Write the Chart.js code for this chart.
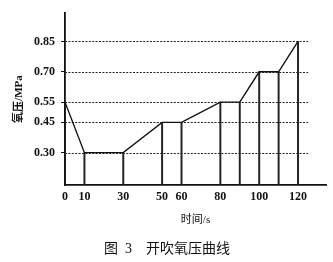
<!DOCTYPE html>
<html>
<head>
<meta charset="utf-8">
<script src="https://cdn.jsdelivr.net/npm/chart.js@4"></script>
<style>
  html, body { margin: 0; padding: 0; background: #fff; }
</style>
</head>
<body>
<canvas id="pressure" width="333" height="262"></canvas>
<script>
// blowing time (s) and oxygen pressure (MPa)
const times = [0, 10, 30, 50, 60, 80, 90, 100, 110, 120];
const pressure = [0.55, 0.30, 0.30, 0.45, 0.45, 0.55, 0.55, 0.70, 0.70, 0.85];

const xTicks = [0, 10, 30, 50, 60, 80, 100, 120];
const yTicks = [0.30, 0.45, 0.55, 0.70, 0.85];

const serif = "'Liberation Serif', 'Noto Sans CJK SC', serif";
const ink = '#111';

const points = times.map((t, i) => ({ x: t, y: pressure[i] }));

// dotted guide lines, stopping short of the end of the time axis
const guides = {
  id: 'guides',
  beforeDatasetsDraw(chart) {
    const { ctx, chartArea, scales } = chart;
    const xEnd = scales.x.getPixelForValue(125.2);
    ctx.save();
    ctx.strokeStyle = '#222';
    ctx.lineWidth = 1.1;
    ctx.setLineDash([2, 1.4]);
    yTicks.forEach(v => {
      const y = Math.round(scales.y.getPixelForValue(v)) + 0.5;
      ctx.beginPath();
      ctx.moveTo(chartArea.left, y);
      ctx.lineTo(xEnd, y);
      ctx.stroke();
    });
    ctx.restore();
  }
};

const caption = {
  id: 'caption',
  afterDraw(chart) {
    const ctx = chart.ctx;
    ctx.save();
    ctx.fillStyle = ink;
    ctx.font = "14px 'Liberation Serif', 'Noto Sans CJK SC'";
    ctx.textAlign = 'center';
    ctx.textBaseline = 'middle';
    ctx.fillText('图  3\u3000开吹氧压曲线', 167, 249);
    ctx.restore();
  }
};

const ctx = document.getElementById('pressure').getContext('2d');
new Chart(ctx, {
  type: 'line',
  data: {
    datasets: [{
      type: 'line',
      data: points,
      borderColor: ink,
      borderWidth: 1.4,
      pointRadius: 0,
      tension: 0,
      order: 1
    }, {
      type: 'bar',
      data: points,
      backgroundColor: '#222',
      borderWidth: 0,
      barThickness: 1.3,
      grouped: false,
      order: 2
    }]
  },
  options: {
    responsive: false,
    animation: false,
    layout: { padding: { top: 3, right: 7, bottom: 30, left: 0 } },
    plugins: {
      legend: { display: false },
      tooltip: { enabled: false }
    },
    scales: {
      x: {
        type: 'linear',
        min: 0,
        max: 134.4,
        offset: false,
        afterBuildTicks: scale => { scale.ticks = xTicks.map(v => ({ value: v })); },
        afterFit: scale => { scale.height = 47; },
        grid: { display: false, drawTicks: false },
        border: { display: true, color: ink, width: 1.8 },
        ticks: {
          padding: 5,
          color: ink,
          font: { family: serif, size: 12, weight: 'bold' },
          maxRotation: 0,
          autoSkip: false
        },
        title: {
          display: true,
          text: '时间/s',
          color: ink,
          font: { family: serif, size: 11 },
          padding: { top: 0, bottom: 5 }
        }
      },
      y: {
        type: 'linear',
        min: 0.14,
        max: 0.99,
        afterBuildTicks: scale => { scale.ticks = yTicks.map(v => ({ value: v })); },
        afterFit: scale => { scale.width = 65; },
        grid: {
          display: true,
          drawOnChartArea: false,
          drawTicks: true,
          tickLength: 4,
          color: ink,
          lineWidth: 1
        },
        border: { display: true, color: ink, width: 1.8 },
        ticks: {
          padding: 6,
          color: ink,
          font: { family: serif, size: 12, weight: 'bold' },
          callback: v => v.toFixed(2)
        },
        title: {
          display: true,
          text: '氧压/MPa',
          color: ink,
          font: { family: serif, size: 11, weight: 'bold' },
          padding: { top: 13, bottom: 0 }
        }
      }
    }
  },
  plugins: [guides, caption]
});
</script>
</body>
</html>
